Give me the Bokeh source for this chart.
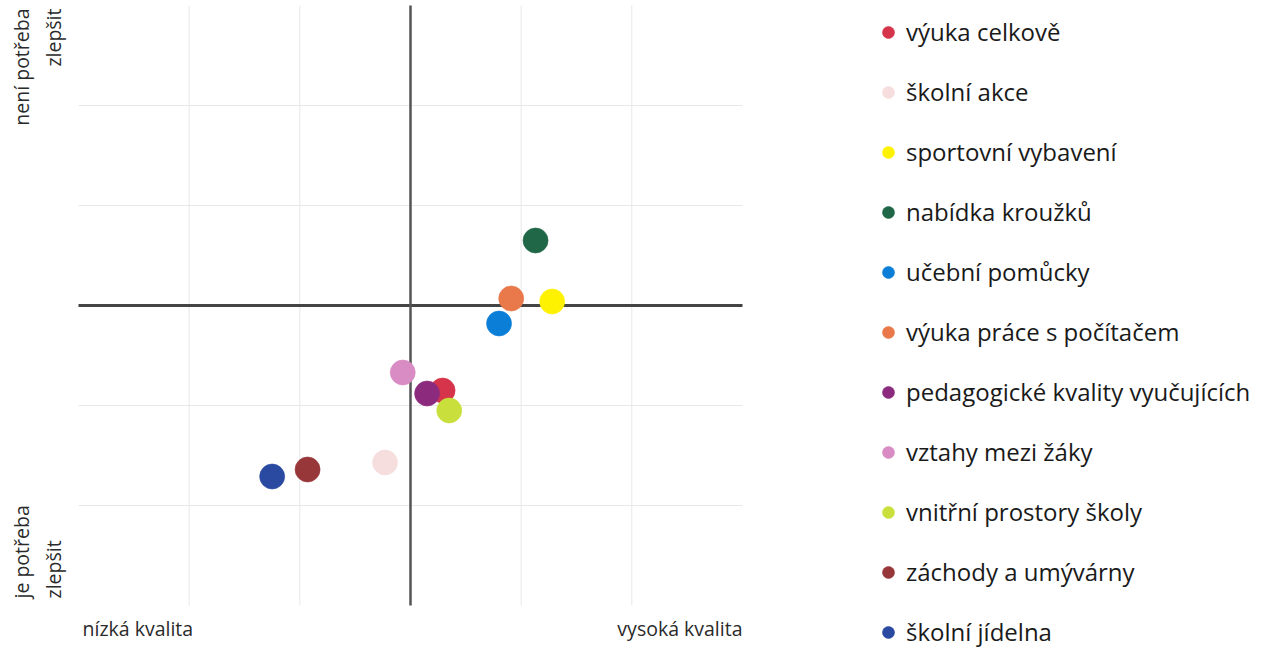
import math
from bokeh.plotting import figure
from bokeh.models import Legend, LegendItem, Range1d, Label
from bokeh.embed import file_html
from bokeh.resources import INLINE

categories = ["výuka celkově", "školní akce", "sportovní vybavení", "nabídka kroužků",
              "učební pomůcky", "výuka práce s počítačem", "pedagogické kvality vyučujících",
              "vztahy mezi žáky", "vnitřní prostory školy", "záchody a umývárny", "školní jídelna"]
quality = [0.29, -0.23, 1.28, 1.13, 0.80, 0.91, 0.15, -0.07, 0.35, -0.93, -1.25]
need = [-0.85, -1.57, 0.04, 0.65, -0.18, 0.07, -0.88, -0.67, -1.05, -1.64, -1.71]
colors = ["#d5344b", "#f6dede", "#fff200", "#1f6747", "#0b7fd8", "#e9784a", "#8c2b7d",
          "#d98cc3", "#c9e03c", "#97373a", "#2a49a0"]
grid_ticks = [-2, -1, 1, 2]
lim = 3

FONT = "Open Sans"
W, H = 1273, 648
PX_X, PX_Y = 110.67, 100.0          # pixels per unit
LEFT, RIGHT, TOP, BOTTOM = 78, 531, 5, 43   # space around the quadrant

p = figure(width=W, height=H,
           x_range=Range1d(-lim - LEFT / PX_X, lim + RIGHT / PX_X),
           y_range=Range1d(-lim - BOTTOM / PX_Y, lim + TOP / PX_Y),
           x_axis_location=None, y_axis_location=None,
           output_backend="svg", toolbar_location=None,
           min_border_left=0, min_border_right=0, min_border_top=0, min_border_bottom=0)
p.grid.visible = False
p.outline_line_color = None

# light grid inside the quadrant
p.segment(x0=grid_ticks, y0=-lim, x1=grid_ticks, y1=lim, line_color="#e8e8e8", line_width=1)
p.segment(x0=-lim, y0=grid_ticks, x1=lim, y1=grid_ticks, line_color="#e8e8e8", line_width=1)
# central axes
p.segment(x0=[-lim], y0=[0], x1=[lim], y1=[0], line_color="#444444", line_width=3)
p.segment(x0=[0], y0=[-lim], x1=[0], y1=[lim], line_color="#555555", line_width=2.5)

items = []
for cat, xv, yv, col in zip(categories, quality, need, colors):
    r = p.scatter(x=[xv], y=[yv], size=25, fill_color=col, line_color=col, line_alpha=0.6)
    items.append(LegendItem(label=cat, renderers=[r]))

legend = Legend(items=items, location=(872, 0), padding=0, margin=0,
                glyph_width=32, glyph_height=30, label_height=30, label_standoff=2,
                spacing=27, label_text_font=FONT, label_text_font_size="24px",
                label_text_color="#1a1a1a",
                border_line_color=None, background_fill_alpha=0)
p.add_layout(legend, "center")

txt = dict(text_font=FONT, text_color="#2a2a2a", x_units="screen", y_units="screen")
p.add_layout(Label(x=82, y=H - 628, text="nízká kvalita", text_font_size="19.5px",
                   text_baseline="middle", text_align="left", **txt))
p.add_layout(Label(x=742, y=H - 628, text="vysoká kvalita", text_font_size="19.5px",
                   text_baseline="middle", text_align="right", **txt))
p.add_layout(Label(x=7, y=H - 8, text="není potřeba\nzlepšit", angle=math.pi / 2,
                   text_font_size="19.5px", text_baseline="top", text_align="right",
                   text_line_height=1.2, **txt))
p.add_layout(Label(x=7, y=H - 598, text="je potřeba\nzlepšit", angle=math.pi / 2,
                   text_font_size="19.5px", text_baseline="top", text_align="left",
                   text_line_height=1.2, **txt))

open("out.html", "w").write(file_html(p, INLINE))
